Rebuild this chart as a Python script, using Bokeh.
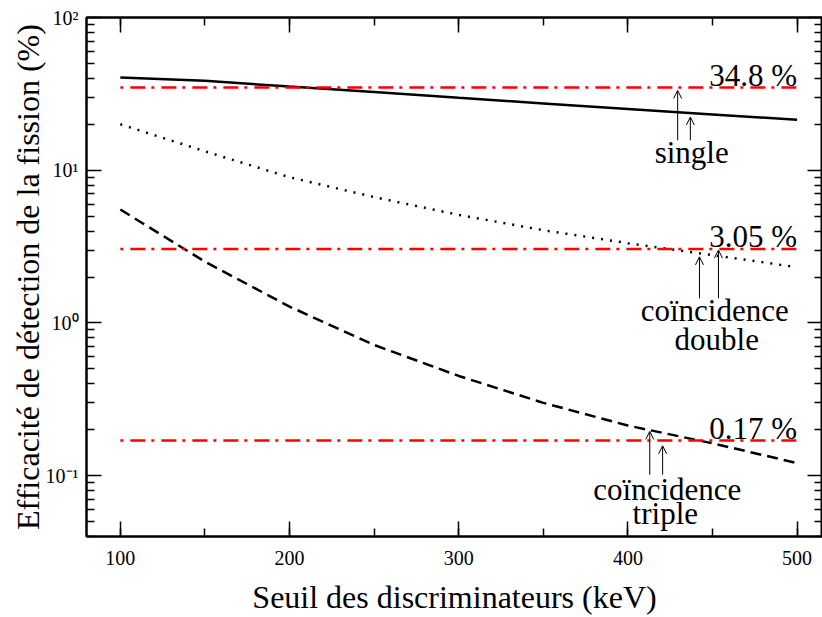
from bokeh.plotting import figure
from bokeh.models import (Label, Arrow, OpenHead, LinearAxis, LogAxis, FixedTicker,
                          SingleIntervalTicker, ColumnDataSource)
from bokeh.embed import file_html
from bokeh.resources import INLINE

# ---- data ----
threshold_kev = [100, 150, 200, 250, 300, 350, 400, 450, 500]
eff_single = [40.5, 38.5, 35.3, 32.5, 29.8, 27.4, 25.2, 23.2, 21.4]
eff_double = [20.0, 13.3, 9.0, 6.67, 5.1, 4.05, 3.33, 2.78, 2.32]
eff_triple = [5.53, 2.52, 1.28, 0.718, 0.45, 0.30, 0.213, 0.163, 0.121]
ref_levels = [34.8, 3.05, 0.17]
ref_labels = ["34.8 %", "3.05 %", "0.17 %"]
y_major = [0.1, 1, 10, 100]
y_major_labels = ["10\u207b\u00b9", "10\u2070", "10\u00b9", "10\u00b2"]

FONT = "Liberation Serif"

p = figure(width=822, height=617, x_range=(80, 515), y_range=(0.04, 100),
           y_axis_type="log", output_backend="svg", toolbar_location=None,
           min_border_left=86, min_border_right=0, min_border_top=17,
           min_border_bottom=80, background_fill_color="white",
           border_fill_color="white")
p.xgrid.visible = False
p.ygrid.visible = False
p.outline_line_color = "black"
p.outline_line_width = 2

minor_y = []
for d in [0.01, 0.1, 1, 10]:
    for m in range(2, 10):
        v = round(m * d, 4)
        if 0.04 <= v <= 100:
            minor_y.append(v)
yticker = FixedTicker(ticks=y_major, minor_ticks=minor_y)
xticker = SingleIntervalTicker(interval=100, num_minor_ticks=2)

def style_axis(ax, labels=True):
    ax.axis_line_width = 2
    ax.axis_line_color = "black"
    ax.major_tick_in = 15
    ax.major_tick_out = 0
    ax.minor_tick_in = 8
    ax.minor_tick_out = 0
    ax.major_tick_line_width = 1.5
    ax.minor_tick_line_width = 1.5
    ax.major_tick_line_color = "black"
    ax.minor_tick_line_color = "black"
    ax.major_label_text_font = FONT
    ax.axis_label_text_font = FONT
    ax.axis_label_text_font_style = "normal"
    ax.axis_label_text_font_size = "32px"
    ax.axis_label_text_color = "black"
    if labels:
        ax.major_label_text_font_size = "20px"
        ax.major_label_text_color = "black"
    else:
        ax.major_label_text_font_size = "1px"
        ax.major_label_text_color = None
        ax.major_label_standoff = 0
        ax.axis_label_standoff = 0

p.xaxis.ticker = xticker
p.yaxis.ticker = yticker
for ax in p.xaxis + p.yaxis:
    style_axis(ax)
p.xaxis.axis_label = "Seuil des discriminateurs (keV)"
p.yaxis.axis_label = "Efficacité de détection de la fission (%)"
p.xaxis.major_label_standoff = 14
p.xaxis.axis_label_standoff = 11
p.yaxis.major_label_standoff = 8
p.yaxis.axis_label_standoff = -3
p.yaxis.major_label_overrides = {t: l for t, l in zip(y_major, y_major_labels)}

top = LinearAxis(ticker=xticker)
style_axis(top, labels=False)
p.add_layout(top, "above")
right = LogAxis(ticker=yticker)
style_axis(right, labels=False)
p.add_layout(right, "right")

# ---- curves ----
src = ColumnDataSource(dict(x=threshold_kev, s=eff_single, d=eff_double, t=eff_triple))
p.line("x", "s", source=src, line_color="black", line_width=2.5)
p.line("x", "d", source=src, line_color="black", line_width=2.5, line_dash="2 7")
p.line("x", "t", source=src, line_color="black", line_width=2.5, line_dash="11 6")

ref_src = ColumnDataSource(dict(x0=[threshold_kev[0]] * 3, x1=[threshold_kev[-1]] * 3,
                                y=ref_levels))
p.segment(x0="x0", y0="y", x1="x1", y1="y", source=ref_src, line_color="red",
          line_width=2.5, line_dash="3 7 15 6")

# ---- annotations ----
label_y = [41.7, 3.66, 0.205]
for txt, yy in zip(ref_labels, label_y):
    p.add_layout(Label(x=500, y=yy, text=txt, text_font=FONT, text_font_size="31px",
                       text_align="right", text_baseline="alphabetic", text_color="black"))

names = [("single", 437.7, 13.1), ("coïncidence", 451.3, 1.215), ("double", 452.5, 0.774),
         ("coïncidence", 423.3, 0.081), ("triple", 422.1, 0.0564)]
for txt, xx, yy in names:
    p.add_layout(Label(x=xx, y=yy, text=txt, text_font=FONT, text_font_size="31px",
                       text_align="center", text_baseline="alphabetic", text_color="black"))

arrows = [(429.4, 15.7, 33.3), (436.9, 15.7, 22.3),
          (442.3, 1.45, 2.71), (453.5, 1.45, 3.0),
          (412.9, 0.1015, 0.195), (420.5, 0.1015, 0.157)]
for xx, y0, y1 in arrows:
    p.add_layout(Arrow(end=OpenHead(size=8, line_width=1, line_color="black"),
                       x_start=xx, y_start=y0, x_end=xx, y_end=y1,
                       line_width=1, line_color="black"))

open("out.html", "w").write(file_html(p, INLINE))
